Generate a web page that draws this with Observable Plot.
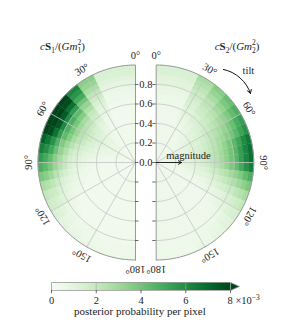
<!DOCTYPE html>
<html><head><meta charset="utf-8">
<script src="https://cdn.jsdelivr.net/npm/d3@7"></script>
<script src="https://cdn.jsdelivr.net/npm/@observablehq/plot@0.6"></script>
<style>body{margin:0;background:#fff;} #chart svg{display:block;}</style>
</head><body><div id="chart"></div><script>
// ---- data ----
const magnitudeEdges = [0,0.05,0.1,0.15,0.2,0.25,0.3,0.35,0.4,0.45,0.5,0.55,0.6,0.65,0.7,0.75,0.8,0.85,0.9,0.95,1.0];
const cosTiltEdges = [1.0,0.9,0.8,0.7,0.6,0.5,0.4,0.3,0.2,0.1,0.0,-0.1,-0.2,-0.3,-0.4,-0.5,-0.6,-0.7,-0.8,-0.9,-1.0];
const tiltTicks = [0,30,60,90,120,150,180];
const magnitudeTicks = [0.0,0.2,0.4,0.6,0.8];
const magnitudeTickLabels = ["0.0","0.2","0.4","0.6","0.8"];
const colorbarTicks = [0,0.002,0.004,0.006,0.008];
const colorbarTickLabels = ["0","2","4","6"];
// posterior probability per pixel, units of 1e-4; rows = cos(tilt) bins (0° -> 180°), cols = magnitude bins
const s1Prob = [
[4,4,4,4,4,4,4,4,4,4,4,4,4,5,6,7,9,11,13,14],
[4,4,4,4,4,4,4,4,4,5,6,7,9,11,14,18,22,27,32,35],
[4,4,4,4,5,6,6,7,8,9,11,14,17,20,26,32,40,50,57,62],
[5,5,6,6,7,8,9,9,11,13,15,19,23,28,36,44,55,68,78,85],
[6,6,6,6,7,8,9,10,12,14,17,20,25,30,39,48,60,74,85,92],
[6,6,6,7,7,8,9,10,12,14,17,21,25,31,39,48,61,75,86,93],
[5,5,6,6,7,8,9,9,11,13,15,19,23,28,36,44,55,68,78,85],
[4,4,5,5,6,6,7,8,9,11,13,16,19,24,30,37,47,58,66,72],
[4,4,4,4,5,5,6,6,8,9,10,13,16,19,26,33,42,51,59,64],
[4,4,4,4,4,4,5,5,6,7,9,11,13,16,22,28,35,43,50,55],
[4,4,4,4,4,4,4,5,5,6,8,9,11,14,20,25,31,38,44,48],
[4,4,4,4,4,4,4,4,4,5,6,7,9,11,15,19,24,30,35,38],
[4,4,4,4,4,4,4,4,4,4,5,6,7,9,11,14,18,22,25,27],
[4,4,4,4,4,4,4,4,4,4,4,5,6,7,9,11,14,17,19,21],
[4,4,4,4,4,4,4,4,4,4,4,4,5,6,7,9,11,14,16,17],
[4,4,4,4,4,4,4,4,4,4,4,4,4,4,5,7,8,10,12,13],
[4,4,4,4,4,4,4,4,4,4,4,4,4,4,4,5,7,8,9,10],
[4,4,4,4,4,4,4,4,4,4,4,4,4,4,4,4,5,6,7,8],
[4,4,4,4,4,4,4,4,4,4,4,4,4,4,4,4,5,6,6,7],
[4,4,4,4,4,4,4,4,4,4,4,4,4,4,4,4,4,5,5,6]
];
const s2Prob = [
[5,5,5,5,5,5,5,5,5,5,5,5,6,6,7,8,10,11,13,14],
[5,5,5,5,5,5,5,6,6,7,8,10,11,13,15,17,19,22,25,28],
[5,5,5,5,5,6,6,7,8,9,11,13,14,17,19,22,24,28,32,36],
[5,5,5,6,6,7,8,8,10,11,13,15,17,19,22,25,29,33,38,42],
[6,6,6,7,7,8,9,10,11,12,14,17,19,22,25,29,33,37,43,48],
[6,6,7,8,8,9,10,11,12,14,16,19,22,25,28,32,37,42,49,54],
[7,7,8,8,9,9,10,12,13,15,17,20,23,27,30,35,39,45,52,58],
[7,7,8,8,9,10,11,12,14,16,18,21,24,28,33,39,45,52,60,66],
[7,7,8,9,9,10,11,12,14,16,19,22,25,29,34,40,46,54,62,68],
[7,7,8,9,9,10,11,12,14,16,19,22,25,29,34,40,46,54,62,68],
[7,7,8,8,9,9,10,12,13,15,17,20,23,27,32,38,43,50,58,64],
[6,6,6,7,7,8,9,10,11,12,14,17,19,22,25,29,33,37,43,48],
[5,5,5,5,6,6,7,8,9,10,11,13,15,17,20,23,26,30,34,38],
[5,5,5,5,5,5,5,6,6,7,8,10,11,13,15,17,19,22,25,28],
[5,5,5,5,5,5,5,5,5,5,6,7,8,9,10,12,14,16,18,20],
[5,5,5,5,5,5,5,5,5,5,5,5,6,7,8,9,10,12,14,15],
[5,5,5,5,5,5,5,5,5,5,5,5,5,5,6,7,7,9,10,11],
[5,5,5,5,5,5,5,5,5,5,5,5,5,5,5,5,6,7,8,9],
[5,5,5,5,5,5,5,5,5,5,5,5,5,5,5,5,5,6,6,7],
[5,5,5,5,5,5,5,5,5,5,5,5,5,5,5,5,5,5,6,6]
];

// ---- geometry helpers ----
const GAP = 0.106;
const deg = Math.PI / 180;
function pt(side, r, th) { return {x: side * (GAP + r * Math.sin(th * deg)), y: r * Math.cos(th * deg)}; }

const cells = [];
let id = 0;
for (const [side, grid] of [[-1, s1Prob], [1, s2Prob]]) {
  for (let k = 0; k < cosTiltEdges.length - 1; k++) {
    const t1 = Math.acos(cosTiltEdges[k]) / deg, t2 = Math.acos(cosTiltEdges[k + 1]) / deg;
    for (let j = 0; j < magnitudeEdges.length - 1; j++) {
      const r1 = magnitudeEdges[j], r2 = magnitudeEdges[j + 1], v = grid[k][j] * 1e-4;
      const n = 8;
      for (let s = 0; s <= n; s++) cells.push({...pt(side, r2, t1 + (t2 - t1) * s / n), id, v});
      for (let s = n; s >= 0; s--) cells.push({...pt(side, r1, t1 + (t2 - t1) * s / n), id, v});
      id++;
    }
  }
}
const gridLines = [];
let gid = 0;
for (const side of [-1, 1]) {
  for (const r of [0.2, 0.4, 0.6, 0.8]) {
    for (let th = 0; th <= 180; th += 2) gridLines.push({...pt(side, r, th), id: gid});
    gid++;
  }
  for (const th of [30, 60, 90, 120, 150]) {
    gridLines.push({...pt(side, 0, th), id: gid});
    gridLines.push({...pt(side, 1, th), id: gid});
    gid++;
  }
}
const outline = [];
for (const side of [-1, 1]) {
  outline.push({x: side * GAP, y: -1, side});
  for (let th = 180; th >= 0; th -= 2) outline.push({...pt(side, 1, th), side});
  outline.push({x: side * GAP, y: -1, side});
}
const tickRows = [];
for (const side of [-1, 1]) for (const m of [-0.8, -0.6, -0.4, -0.2, 0, 0.2, 0.4, 0.6, 0.8]) tickRows.push({side, y: m});
const angleLabels = [];
for (const side of [-1, 1]) for (const th of tiltTicks) angleLabels.push({...pt(side, 1.1, th), rot: side * th, text: th + "°"});

const color = {type: "linear", scheme: "greens", domain: [0, 0.008], clamp: true};
const fontFamily = "'Liberation Serif', 'DejaVu Serif', serif";

const main = Plot.plot({
  width: 285, height: 275,
  margin: 0,
  style: {fontFamily, fontSize: "10.5px", background: "white", overflow: "visible"},
  x: {domain: [-1, 1], range: [145.35 - 97.5, 145.35 + 97.5], axis: null},
  y: {domain: [-1, 1], range: [162 + 97.5, 162 - 97.5], axis: null},
  color,
  marks: [
    Plot.line(cells, {x: "x", y: "y", z: "id", fill: "v", stroke: "v", strokeWidth: 0.5, curve: "linear"}),
    Plot.line(gridLines, {x: "x", y: "y", z: "id", stroke: "#c4c4c4", strokeWidth: 0.8}),
    Plot.line(outline, {x: "x", y: "y", z: "side", stroke: "#999", strokeWidth: 1}),
    Plot.ruleY(tickRows, {y: "y", x1: d => d.side * GAP, x2: d => d.side * (GAP - 0.035), stroke: "#444", strokeWidth: 0.8}),
    Plot.text(magnitudeTicks, {x: 0, y: d => d, text: (d, i) => magnitudeTickLabels[i], fill: "#222"}),
    Plot.text(angleLabels, {x: "x", y: "y", text: "text", rotate: "rot", fill: "#222"}),
    Plot.text(["cS1/(Gm1^2)"], {x: -0.855, y: 1.19, text: d => d, fontSize: 11, fill: "#222"}),
    Plot.text(["cS2/(Gm2^2)"], {x: 0.935, y: 1.19, text: d => d, fontSize: 11, fill: "#222"}),
    Plot.text(["tilt"], {x: 1.052, y: 0.944, text: d => d, fill: "#222"}),
    Plot.arrow([{x1: 0.796, y1: 0.954, x2: 1.073, y2: 0.708}], {x1: "x1", y1: "y1", x2: "x2", y2: "y2", bend: 30, stroke: "#111", strokeWidth: 1, headLength: 6}),
    Plot.text(["magnitude"], {x: 0.437, y: 0.072, text: d => d, fill: "#222"}),
    Plot.arrow([{x1: GAP, y1: 0, x2: 0.366, y2: 0}], {x1: "x1", y1: "y1", x2: "x2", y2: "y2", stroke: "#111", strokeWidth: 0.9, headLength: 6})
  ]
});

const ramp = d3.range(179).map(i => ({a: i / 179 * 0.008, b: Math.min((i + 1.3) / 179 * 0.008, 0.008), v: (i + 0.5) / 179 * 0.008}));
const cbOutline = [{x: 0, y: 0}, {x: 0, y: 1}, {x: 0.008, y: 1}, {x: 0.0084, y: 0.5}, {x: 0.008, y: 0}, {x: 0, y: 0}];
const cb = Plot.plot({
  width: 285, height: 48,
  margin: 0,
  style: {fontFamily, fontSize: "10.5px", background: "white", overflow: "visible"},
  x: {domain: [0, 0.008], range: [51, 230], axis: null},
  y: {domain: [0, 1], range: [15, 7], axis: null},
  color,
  marks: [
    Plot.rect(ramp, {x1: "a", x2: "b", y1: 0, y2: 1, fill: "v"}),
    Plot.line(cbOutline.slice(2, 5), {x: "x", y: "y", fill: "#00441b", stroke: "none"}),
    Plot.ruleX(colorbarTicks.slice(1, 4), {x: d => d, y1: 0, y2: 1, stroke: "#aaa", strokeWidth: 0.6}),
    Plot.line(cbOutline, {x: "x", y: "y", stroke: "#999", strokeWidth: 0.8}),
    Plot.ruleX(colorbarTicks, {x: d => d, y1: 0, y2: -0.4, stroke: "#444", strokeWidth: 0.8}),
    Plot.text(colorbarTicks.slice(0, 4), {x: d => d, y: -1.25, text: (d, i) => colorbarTickLabels[i], fill: "#222"}),
    Plot.text(["8×10^-3"], {x: 0.008, y: -1.25, text: d => d, textAnchor: "start", dx: -3, fill: "#222"}),
    Plot.text(["posterior probability per pixel"], {x: 0.00395, y: -2.625, text: d => d, fontSize: 11, fill: "#222"})
  ]
});

function richText(svg, placeholder, parts) {
  d3.select(svg).selectAll("text").filter(function () { return this.textContent === placeholder; }).each(function () {
    const t = d3.select(this);
    t.text("");
    for (const p of parts) {
      const s = t.append("tspan").text(p.t);
      if (p.italic) s.attr("font-style", "italic");
      if (p.bold) s.attr("font-weight", "bold");
      if (p.dx) s.attr("dx", p.dx);
      if (p.dy) s.attr("dy", p.dy);
      if (p.size) s.attr("font-size", p.size);
    }
  });
}
function titleParts(n) {
  return [
    {t: "c", italic: true}, {t: "S", bold: true}, {t: n, size: "7.5px", dy: 3},
    {t: "/(", dy: -3}, {t: "Gm", italic: true}, {t: n, size: "7.5px", dy: 3},
    {t: "2", size: "7.5px", dx: -3.8, dy: -8}, {t: ")", dy: 5}
  ];
}
richText(main, "cS1/(Gm1^2)", titleParts("1"));
richText(main, "cS2/(Gm2^2)", titleParts("2"));
richText(cb, "8×10^-3", [{t: "8 ×10"}, {t: "−3", size: "7.5px", dy: -4}]);

document.getElementById("chart").append(main, cb);
</script></body></html>
